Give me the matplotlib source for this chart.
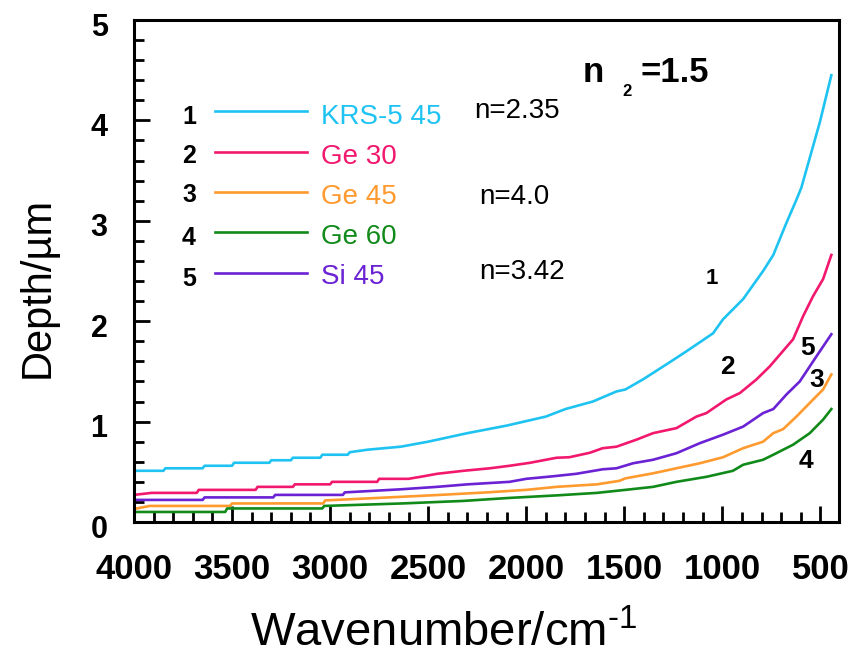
import matplotlib
matplotlib.use("Agg")
import matplotlib.pyplot as plt
from matplotlib.ticker import MultipleLocator
from matplotlib.transforms import ScaledTranslation

plt.rcParams['font.family'] = ['Liberation Sans', 'DejaVu Sans']
plt.rcParams['mathtext.fontset'] = 'custom'
plt.rcParams['mathtext.rm'] = 'Liberation Sans'
plt.rcParams['mathtext.default'] = 'regular'

# ---- data ----
wn_krs45 = [4000, 3850, 3840, 3650, 3640, 3500, 3490, 3310, 3300, 3200, 3190, 3050, 3040,
            2910, 2900, 2810, 2640, 2500, 2300, 2100, 1900, 1800, 1660, 1540, 1494, 1405,
            1285, 1183, 1047, 996, 894, 792, 740, 673, 622, 597, 503, 444]
d_krs45 = [0.51, 0.51, 0.535, 0.535, 0.56, 0.56, 0.59, 0.59, 0.615, 0.615, 0.64, 0.64, 0.67,
           0.67, 0.695, 0.72, 0.75, 0.80, 0.885, 0.96, 1.05, 1.125, 1.20, 1.30, 1.32, 1.42,
           1.57, 1.70, 1.88, 2.02, 2.22, 2.50, 2.66, 2.98, 3.21, 3.33, 3.98, 4.45]

wn_ge30 = [4000, 3910, 3680, 3670, 3380, 3370, 3190, 3180, 3000, 2990, 2760, 2750, 2600,
           2525, 2455, 2320, 2185, 2085, 1980, 1845, 1780, 1675, 1610, 1540, 1438, 1353,
           1234, 1132, 1081, 980, 910, 826, 758, 639, 588, 537, 486, 444]
d_ge30 = [0.27, 0.29, 0.29, 0.32, 0.32, 0.35, 0.35, 0.375, 0.375, 0.40, 0.40, 0.43, 0.43,
          0.455, 0.48, 0.51, 0.535, 0.56, 0.59, 0.64, 0.645, 0.69, 0.735, 0.75, 0.82, 0.885,
          0.935, 1.05, 1.085, 1.22, 1.285, 1.42, 1.55, 1.82, 2.05, 2.25, 2.42, 2.66]

wn_ge45 = [4000, 3920, 3510, 3500, 3035, 3025, 2700, 2440, 2200, 2000, 1845, 1640, 1525,
           1494, 1353, 1234, 1115, 996, 894, 792, 740, 690, 622, 537, 486, 444]
d_ge45 = [0.13, 0.16, 0.16, 0.185, 0.185, 0.215, 0.245, 0.27, 0.295, 0.32, 0.35, 0.375, 0.41,
          0.435, 0.485, 0.535, 0.585, 0.645, 0.735, 0.80, 0.885, 0.925, 1.05, 1.22, 1.32, 1.47]

wn_ge60 = [4000, 3535, 3525, 3040, 3030, 2630, 2320, 2085, 1845, 1640, 1494, 1353, 1234,
           1081, 946, 894, 792, 740, 639, 554, 486, 444]
d_ge60 = [0.10, 0.10, 0.135, 0.135, 0.16, 0.185, 0.21, 0.24, 0.265, 0.29, 0.32, 0.35, 0.40,
          0.45, 0.51, 0.57, 0.62, 0.67, 0.77, 0.885, 1.02, 1.125]

wn_si45 = [4000, 3650, 3640, 3290, 3280, 2935, 2925, 2645, 2455, 2300, 2085, 2000, 1865,
           1745, 1610, 1540, 1455, 1353, 1234, 1115, 996, 894, 792, 740, 673, 605, 520, 444]
d_si45 = [0.22, 0.22, 0.245, 0.245, 0.27, 0.27, 0.295, 0.325, 0.35, 0.375, 0.40, 0.43, 0.455,
          0.48, 0.525, 0.535, 0.585, 0.62, 0.685, 0.785, 0.87, 0.95, 1.085, 1.125, 1.27,
          1.40, 1.65, 1.87]

series_labels = ["KRS-5 45", "Ge 30", "Ge 45", "Ge 60", "Si 45"]
series_numbers = ["1", "2", "3", "4", "5"]
index_labels = ["n=2.35", "n=4.0", "n=3.42"]
x_ticks = [4000, 3500, 3000, 2500, 2000, 1500, 1000, 500]
y_ticks = [0, 1, 2, 3, 4, 5]

colors = ["#1EC3F2", "#F2186E", "#FF9A2E", "#118A1A", "#6A22D4"]
series = [(wn_krs45, d_krs45), (wn_ge30, d_ge30), (wn_ge45, d_ge45),
          (wn_ge60, d_ge60), (wn_si45, d_si45)]

W, H = 858, 659
fig = plt.figure(figsize=(W / 100, H / 100), dpi=100)


def fx(x):
    return x / W


def fy(y):
    return 1 - y / H


L, R, T, B = 134, 839, 20, 522
ax = fig.add_axes([fx(L), fy(B), (R - L) / W, (B - T) / H])

for (wn, d), c in zip(series, colors):
    ax.plot(wn, d, color=c, lw=1.9, solid_joinstyle='round')

ax.set_xlim(4000, 405)
ax.set_ylim(0, 5)
ax.set_xticks(x_ticks)
ax.set_yticks(y_ticks)
ax.xaxis.set_minor_locator(MultipleLocator(100))
ax.yaxis.set_minor_locator(MultipleLocator(0.2))
ax.tick_params(which='both', direction='in', top=False, right=False, width=2.0)
ax.tick_params(which='major', length=11.5)
ax.tick_params(which='minor', length=7)
ax.tick_params(axis='x', which='major', labelsize=25, pad=22)
ax.tick_params(axis='y', which='major', labelsize=22, pad=19)
for lab in ax.get_xticklabels() + ax.get_yticklabels():
    lab.set_fontweight('bold')
for lab in ax.get_yticklabels():
    lab.set_transform(lab.get_transform() + ScaledTranslation(0, -4 / 100, fig.dpi_scale_trans))
for s in ax.spines.values():
    s.set_linewidth(2.2)

ax.set_xlabel(r"Wavenumber/cm$^{\text{-1}}$", fontsize=34, va='center')
ax.xaxis.set_label_coords((444 - L) / (R - L), (B - 634) / (B - T))
ax.set_ylabel("Depth/\u00b5m", fontsize=30, va='center')
ax.yaxis.set_label_coords((38 - L) / (R - L), (B - 287) / (B - T))

# in-plot legend built from text and lines
line_y = [111, 152, 192, 232.5, 273]
text_y = [117, 157, 197, 237, 277]
num_y = [117, 156, 195, 238, 279]
for i in range(5):
    fig.text(fx(189), fy(num_y[i]), series_numbers[i], fontsize=18, fontweight='bold',
             ha='center', va='center')
    fig.add_artist(plt.Line2D([fx(215), fx(307)], [fy(line_y[i]), fy(line_y[i])],
                              color=colors[i], lw=1.9, transform=fig.transFigure))
    fig.text(fx(321), fy(text_y[i]), series_labels[i], fontsize=20, color=colors[i],
             ha='left', va='center')

fig.text(fx(474), fy(111), index_labels[0], fontsize=20, ha='left', va='center')
fig.text(fx(479), fy(197), index_labels[1], fontsize=20, ha='left', va='center')
fig.text(fx(479), fy(272), index_labels[2], fontsize=20, ha='left', va='center')

fig.text(fx(583), fy(82), "n", fontsize=25, fontweight='bold', ha='left', va='baseline')
fig.text(fx(622), fy(96), "2", fontsize=12, fontweight='bold', ha='left', va='baseline')
fig.text(fx(641), fy(82), "=1.5", fontsize=25, fontweight='bold', ha='left', va='baseline')

# curve number labels
curve_label_pos = {"1": (712, 278, 16), "2": (727, 367, 19), "5": (808, 348, 19),
                   "3": (817, 380, 19), "4": (806, 461, 19)}
for k, (x, y, fs) in curve_label_pos.items():
    fig.text(fx(x), fy(y), k, fontsize=fs, fontweight='bold', ha='center', va='center')

fig.savefig("out.png", dpi=100)
